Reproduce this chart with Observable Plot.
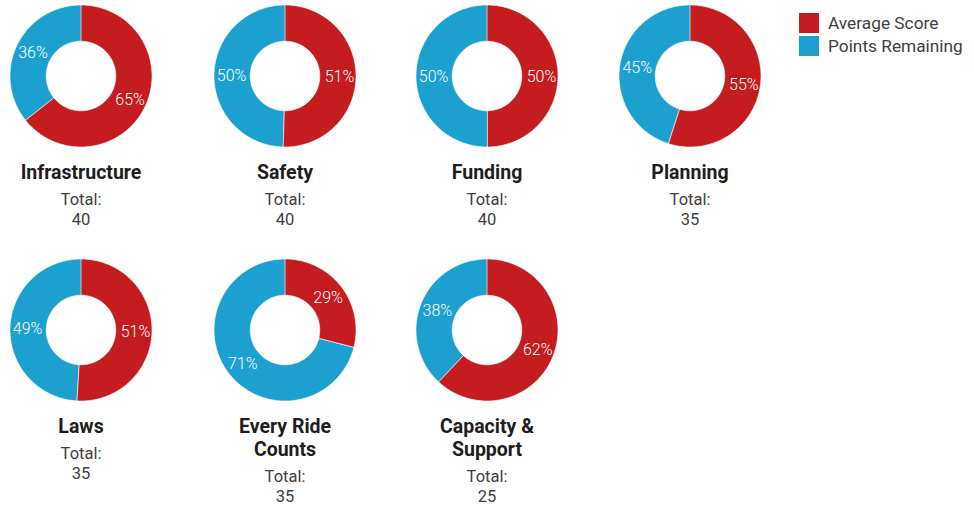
<!DOCTYPE html>
<html>
<head>
<meta charset="utf-8">
<script src="https://cdn.jsdelivr.net/npm/d3@7"></script>
<script src="https://cdn.jsdelivr.net/npm/@observablehq/plot@0.6"></script>
<style>
  html, body { margin: 0; padding: 0; background: #fff; }
  #root { position: relative; width: 974px; height: 506px; font-family: Roboto, "Noto Sans", sans-serif; overflow: hidden; }
  .donut { position: absolute; }
  .label { position: absolute; width: 220px; text-align: center; }
  .title { font-weight: 700; font-size: 19.5px; line-height: 23px; color: #1e1e1e; }
  .total { font-size: 16.5px; line-height: 20px; color: #404040; margin-top: 5.5px; }
  .legend { position: absolute; left: 799px; top: 11px; font-size: 17.3px; color: #404040; }
  .legend .row { display: flex; align-items: center; height: 23px; }
  .legend .sw { width: 20px; height: 20px; margin-right: 9px; }
</style>
</head>
<body>
<div id="root"></div>
<script>
const categories = ["Infrastructure", "Safety", "Funding", "Planning", "Laws", "Every Ride Counts", "Capacity & Support"];
const titleLines = [["Infrastructure"], ["Safety"], ["Funding"], ["Planning"], ["Laws"], ["Every Ride", "Counts"], ["Capacity &", "Support"]];
const averageScore = [65, 51, 50, 55, 51, 29, 62];
const pointsRemaining = [36, 50, 50, 45, 49, 71, 38];
const totals = [40, 40, 40, 35, 35, 35, 25];
const seriesNames = ["Average Score", "Points Remaining"];
const seriesColors = ["#c41c1f", "#1ba0cf"];

const colCenters = [81, 285, 487, 690];
const rowCenters = [76, 330];
const size = 142;
const rInner = 0.49, rLabel = 0.76;

const root = document.getElementById("root");

categories.forEach((cat, i) => {
  const cx = colCenters[i % 4], cy = rowCenters[Math.floor(i / 4)];
  const vals = [averageScore[i], pointsRemaining[i]];
  const sum = vals[0] + vals[1];
  const pts = [], labels = [];
  let start = 0;
  vals.forEach((v, k) => {
    const a0 = start / sum * 2 * Math.PI, a1 = (start + v) / sum * 2 * Math.PI;
    const n = 120;
    for (let j = 0; j <= n; ++j) {
      const a = a0 + (a1 - a0) * j / n;
      pts.push({series: seriesNames[k], x1: Math.sin(a), y1: Math.cos(a), x2: rInner * Math.sin(a), y2: rInner * Math.cos(a)});
    }
    const am = (a0 + a1) / 2;
    labels.push({x: rLabel * Math.sin(am), y: rLabel * Math.cos(am), text: v + "%"});
    start += v;
  });
  const chart = Plot.plot({
    width: size, height: size, margin: 0,
    x: {domain: [-1, 1], axis: null},
    y: {domain: [-1, 1], axis: null},
    color: {domain: seriesNames, range: seriesColors},
    style: {fontFamily: "Roboto, sans-serif", background: "transparent", overflow: "visible"},
    marks: [
      Plot.area(pts, {x1: "x1", y1: "y1", x2: "x2", y2: "y2", z: "series", fill: "series", stroke: "white", strokeWidth: 0.6}),
      Plot.text(labels, {x: "x", y: "y", text: "text", fill: "white", fontSize: 16, fontWeight: 300})
    ]
  });
  const d = document.createElement("div");
  d.className = "donut";
  d.style.left = (cx - size / 2) + "px";
  d.style.top = (cy - size / 2) + "px";
  d.appendChild(chart);
  root.appendChild(d);

  const l = document.createElement("div");
  l.className = "label";
  l.style.left = (cx - 110) + "px";
  l.style.top = (cy + 85) + "px";
  l.innerHTML = titleLines[i].map(t => `<div class="title">${t.replace("&", "&amp;")}</div>`).join("") +
    `<div class="total">Total:<br>${totals[i]}</div>`;
  root.appendChild(l);
});

const lg = document.createElement("div");
lg.className = "legend";
lg.innerHTML = seriesNames.map((s, k) => `<div class="row"><div class="sw" style="background:${seriesColors[k]}"></div>${s}</div>`).join("");
root.appendChild(lg);
</script>
</body>
</html>
